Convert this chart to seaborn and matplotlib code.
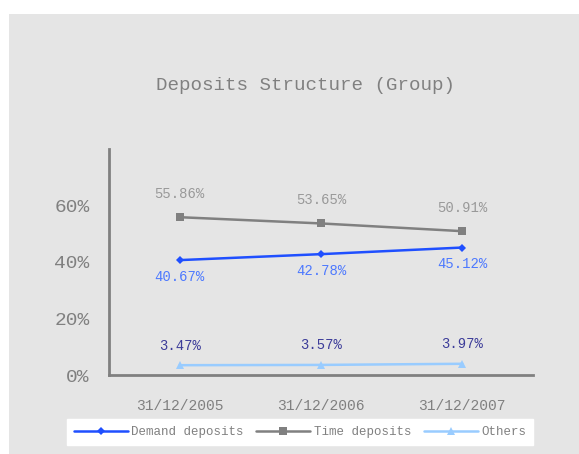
import numpy as np
import pandas as pd
import matplotlib
matplotlib.use('Agg')
import matplotlib.pyplot as plt
import seaborn as sns
from matplotlib.patches import Rectangle
from matplotlib.ticker import PercentFormatter

dates = ['31/12/2005', '31/12/2006', '31/12/2007']
demand = [40.67, 42.78, 45.12]
time_dep = [55.86, 53.65, 50.91]
others = [3.47, 3.57, 3.97]
series_names = ['Demand deposits', 'Time deposits', 'Others']

colors = {'Demand deposits': '#1f4fff', 'Time deposits': '#808080', 'Others': '#99ccff'}
markers = {'Demand deposits': 'D', 'Time deposits': 's', 'Others': '^'}
msize = {'Demand deposits': 4, 'Time deposits': 6, 'Others': 6}
label_col = {'Demand deposits': '#4d79ff', 'Time deposits': '#999999', 'Others': '#3c3c99'}
label_off = {'Demand deposits': -12, 'Time deposits': 17, 'Others': 14}

df = pd.DataFrame({
    'date': dates * 3,
    'value': demand + time_dep + others,
    'series': np.repeat(series_names, 3),
})

sns.set_style('white')
plt.rcParams['font.family'] = ['Liberation Mono', 'DejaVu Sans']

fig = plt.figure(figsize=(5.79, 4.54), dpi=100)
fig.patch.set_facecolor('white')
fig.add_artist(Rectangle((9 / 579, 0), 1, (454 - 14) / 454, transform=fig.transFigure,
                         facecolor='#e5e5e5', edgecolor='none', zorder=0))

ax = fig.add_axes([109 / 579, 79 / 454, 424 / 579, 226 / 454])
ax.set_facecolor('none')

for name in series_names:
    sub = df[df['series'] == name]
    sns.lineplot(data=sub, x='date', y='value', ax=ax, color=colors[name],
                 marker=markers[name], markersize=msize[name], markeredgewidth=0,
                 linewidth=1.8, label=name, legend=False)
    for i, v in enumerate(sub['value']):
        ax.annotate(f'{v:.2f}%', (i, v), xytext=(0, label_off[name]), textcoords='offset points',
                    ha='center', va='center', color=label_col[name], fontsize=10)

ax.set_xlim(-0.5, 2.5)
ax.set_ylim(0, 80)
ax.set_yticks([0, 20, 40, 60])
ax.yaxis.set_major_formatter(PercentFormatter(decimals=0))
ax.set_xticks([0, 1, 2])
ax.set_xticklabels(dates)
ax.set_xticks([0.5, 1.5], minor=True)
ax.tick_params(axis='x', which='major', length=0, pad=17, labelsize=10.5, labelcolor='#808080')
ax.tick_params(axis='x', which='minor', direction='in', length=4, width=1.5, color='#808080')
ax.tick_params(axis='y', direction='in', length=5, width=1.5, color='#808080',
               pad=14, labelsize=14, labelcolor='#808080')
ax.set_xlabel('')
ax.set_ylabel('')
for side in ['top', 'right']:
    ax.spines[side].set_visible(False)
for side in ['left', 'bottom']:
    ax.spines[side].set_color('#808080')
    ax.spines[side].set_linewidth(2)

fig.text(306 / 579, 1 - 85 / 454, 'Deposits Structure (Group)', ha='center', va='center',
         fontsize=13.8, color='#808080')

handles, labels = ax.get_legend_handles_labels()
leg = fig.legend(handles, labels, loc='center', bbox_to_anchor=(300 / 579, 1 - 432 / 454),
                 ncol=3, frameon=True, fancybox=False, facecolor='white', edgecolor='white',
                 framealpha=1, fontsize=9, labelcolor='#808080', handlelength=4.3,
                 handletextpad=0.3, columnspacing=1.0, borderpad=0.55)

fig.savefig('out.png', dpi=100)
